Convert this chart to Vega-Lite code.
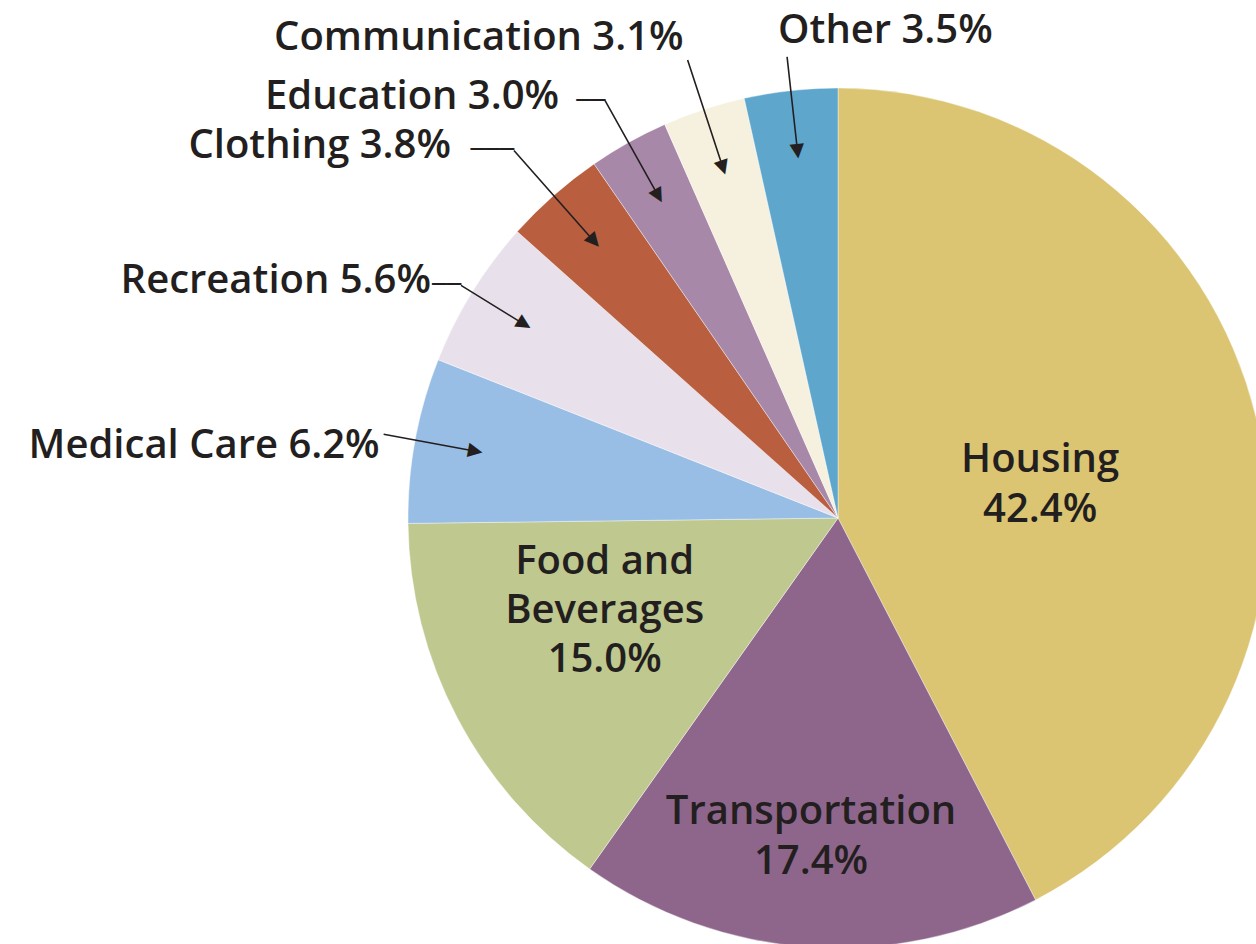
{
  "$schema": "https://vega.github.io/schema/vega-lite/v6.json",
  "width": 1256,
  "height": 944,
  "autosize": "none",
  "padding": 0,
  "background": "white",
  "config": {"view": {"stroke": null}},
  "data": {
    "values": [
      {"category": "Housing", "value": 42.4, "order": 1, "label": "Housing\n42.4%"},
      {"category": "Transportation", "value": 17.4, "order": 2, "label": "Transportation\n17.4%"},
      {"category": "Food and Beverages", "value": 15.0, "order": 3, "label": "Food and\nBeverages\n15.0%"},
      {"category": "Medical Care", "value": 6.2, "order": 4, "label": "Medical Care 6.2%"},
      {"category": "Recreation", "value": 5.6, "order": 5, "label": "Recreation 5.6%"},
      {"category": "Clothing", "value": 3.8, "order": 6, "label": "Clothing 3.8%"},
      {"category": "Education", "value": 3.0, "order": 7, "label": "Education 3.0%"},
      {"category": "Communication", "value": 3.1, "order": 8, "label": "Communication 3.1%"},
      {"category": "Other", "value": 3.5, "order": 9, "label": "Other 3.5%"}
    ]
  },
  "transform": [
    {"stack": "value", "groupby": [], "sort": [{"field": "order", "order": "ascending"}], "as": ["v0", "v1"]},
    {"calculate": "(datum.v0 + datum.v1) / 2", "as": "mid"},
    {"calculate": "datum.mid * 3.6", "as": "midDeg"}
  ],
  "layer": [
    {
      "mark": {"type": "arc", "x": 838, "y": 518, "outerRadius": 430, "stroke": "#ffffff", "strokeWidth": 0.4},
      "encoding": {
        "theta": {"field": "v0", "type": "quantitative", "scale": {"domain": [0, 100]}, "stack": null},
        "theta2": {"field": "v1"},
        "color": {
          "field": "category", "type": "nominal", "legend": null,
          "scale": {
            "domain": ["Housing", "Transportation", "Food and Beverages", "Medical Care", "Recreation", "Clothing", "Education", "Communication", "Other"],
            "range": ["#DBC572", "#8F668B", "#BFC88E", "#99BEE5", "#E8E1EB", "#B95F3F", "#A888A8", "#F6F1DF", "#5FA6CC"]
          }
        }
      }
    },
    {
      "transform": [{"filter": {"field": "category", "oneOf": ["Medical Care", "Recreation", "Clothing", "Education", "Communication", "Other"]}}],
      "mark": {
        "type": "arc", "x": 838, "y": 518, "padAngle": 1.2, "innerRadius": 374,
        "outerRadius": {"expr": "datum.category==='Recreation'?443:datum.category==='Clothing'?490:datum.category==='Education'?478:datum.category==='Communication'?482:datum.category==='Other'?464:462"},
        "fillOpacity": 0, "stroke": "#231f20", "strokeWidth": 1.6
      },
      "encoding": {
        "theta": {"field": "v0", "type": "quantitative", "scale": {"domain": [0, 100]}, "stack": null},
        "theta2": {"field": "v1"}
      }
    },
    {
      "transform": [{"filter": {"field": "category", "oneOf": ["Medical Care", "Recreation", "Clothing", "Education", "Communication", "Other"]}}],
      "mark": {"type": "text", "x": 838, "y": 518, "radius": 370, "text": "▼", "font": "DejaVu Sans", "fontSize": 19, "color": "#231f20", "align": "center", "baseline": "middle"},
      "encoding": {
        "theta": {"field": "mid", "type": "quantitative", "scale": {"domain": [0, 100]}, "stack": null},
        "angle": {"field": "midDeg", "type": "quantitative", "scale": null}
      }
    },
    {
      "transform": [{"filter": {"field": "category", "oneOf": ["Recreation", "Clothing", "Education"]}}],
      "mark": {
        "type": "text", "x": 838, "y": 518, "font": "DejaVu Sans", "fontSize": 24, "color": "#231f20", "align": "right", "baseline": "middle",
        "text": {"expr": "datum.category==='Clothing'?'───':'──'"},
        "radius": {"expr": "datum.category==='Recreation'?443:datum.category==='Clothing'?490:478"}
      },
      "encoding": {
        "theta": {"field": "mid", "type": "quantitative", "scale": {"domain": [0, 100]}, "stack": null}
      }
    },
    {
      "transform": [{"filter": {"field": "category", "oneOf": ["Recreation", "Clothing", "Education"]}}],
      "mark": {
        "type": "text", "x": 838, "y": 518, "font": "Open Sans", "fontWeight": 600, "fontSize": 40, "color": "#231f20", "align": "right", "baseline": "middle", "dy": -4,
        "dx": {"expr": "datum.category==='Recreation'?-30:datum.category==='Clothing'?-63:-46"},
        "radius": {"expr": "datum.category==='Recreation'?443:datum.category==='Clothing'?490:478"}
      },
      "encoding": {
        "theta": {"field": "mid", "type": "quantitative", "scale": {"domain": [0, 100]}, "stack": null},
        "text": {"field": "label"}
      }
    },
    {
      "transform": [{"filter": {"field": "category", "equal": "Communication"}}],
      "mark": {"type": "text", "x": 838, "y": 518, "radius": 482, "font": "Open Sans", "fontWeight": 600, "fontSize": 40, "color": "#231f20", "align": "right", "baseline": "middle", "dx": -4, "dy": -22},
      "encoding": {
        "theta": {"field": "mid", "type": "quantitative", "scale": {"domain": [0, 100]}, "stack": null},
        "text": {"field": "label"}
      }
    },
    {
      "transform": [{"filter": {"field": "category", "equal": "Other"}}],
      "mark": {"type": "text", "x": 838, "y": 518, "radius": 464, "font": "Open Sans", "fontWeight": 600, "fontSize": 40, "color": "#231f20", "align": "left", "baseline": "middle", "dx": -9, "dy": -26},
      "encoding": {
        "theta": {"field": "mid", "type": "quantitative", "scale": {"domain": [0, 100]}, "stack": null},
        "text": {"field": "label"}
      }
    },
    {
      "transform": [{"filter": {"field": "category", "equal": "Medical Care"}}],
      "mark": {"type": "text", "x": 838, "y": 518, "radius": 462, "font": "Open Sans", "fontWeight": 600, "fontSize": 40, "color": "#231f20", "align": "right", "baseline": "middle", "dx": -4, "dy": 12},
      "encoding": {
        "theta": {"field": "mid", "type": "quantitative", "scale": {"domain": [0, 100]}, "stack": null},
        "text": {"field": "label"}
      }
    },
    {
      "transform": [{"filter": {"field": "category", "equal": "Housing"}}],
      "mark": {"type": "text", "x": 838, "y": 518, "radius": 206, "font": "Open Sans", "fontWeight": 600, "fontSize": 40, "lineHeight": 50, "lineBreak": "\n", "color": "#231f20", "align": "center", "baseline": "middle", "dx": 2, "dy": -9},
      "encoding": {
        "theta": {"field": "mid", "type": "quantitative", "scale": {"domain": [0, 100]}, "stack": null},
        "text": {"field": "label"}
      }
    },
    {
      "transform": [{"filter": {"field": "category", "equal": "Transportation"}}],
      "mark": {"type": "text", "x": 838, "y": 518, "radius": 318, "font": "Open Sans", "fontWeight": 600, "fontSize": 40, "lineHeight": 50, "lineBreak": "\n", "color": "#231f20", "align": "center", "baseline": "middle", "dx": -5, "dy": -23},
      "encoding": {
        "theta": {"field": "mid", "type": "quantitative", "scale": {"domain": [0, 100]}, "stack": null},
        "text": {"field": "label"}
      }
    },
    {
      "transform": [{"filter": {"field": "category", "equal": "Food and Beverages"}}],
      "mark": {"type": "text", "x": 838, "y": 518, "radius": 250, "font": "Open Sans", "fontWeight": 600, "fontSize": 40, "lineHeight": 49, "lineBreak": "\n", "color": "#231f20", "align": "center", "baseline": "middle", "dx": -12, "dy": -72},
      "encoding": {
        "theta": {"field": "mid", "type": "quantitative", "scale": {"domain": [0, 100]}, "stack": null},
        "text": {"field": "label"}
      }
    }
  ]
}
